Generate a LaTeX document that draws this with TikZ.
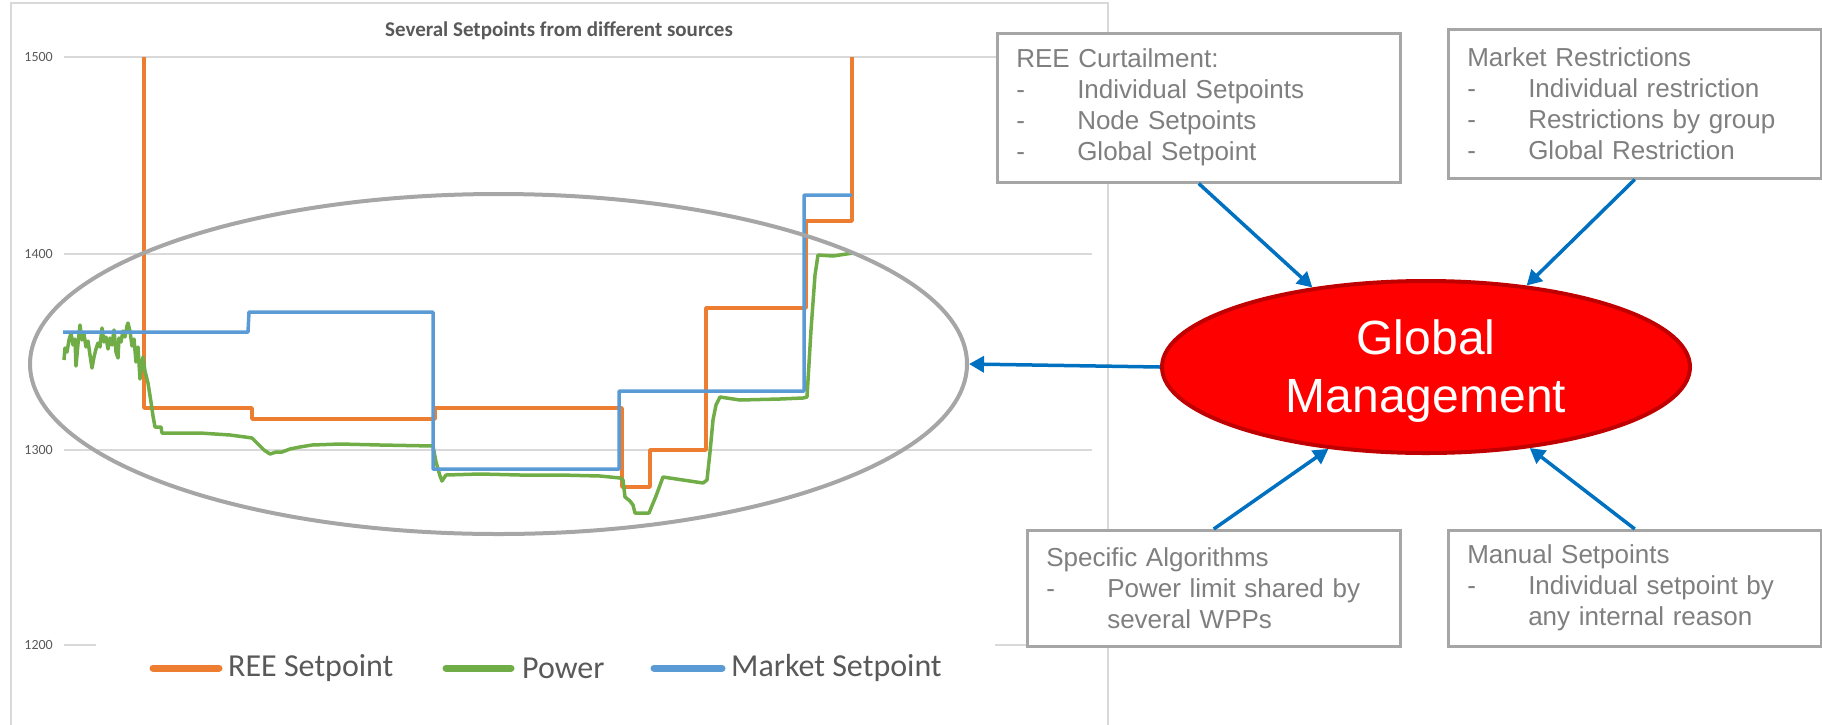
\documentclass[tikz,border=0pt]{standalone}
\usepackage{fontspec}
\setmainfont{Liberation Sans}
\newfontfamily\chartfont{Carlito}
\usetikzlibrary{arrows.meta,shapes.geometric}

\definecolor{reeorange}{HTML}{ED7D31}
\definecolor{powergreen}{HTML}{70AD47}
\definecolor{mktblue}{HTML}{5B9BD5}
\definecolor{arrowblue}{HTML}{0070C0}
\definecolor{gridgray}{HTML}{D9D9D9}
\definecolor{labelgray}{HTML}{595959}
\definecolor{boxtext}{HTML}{7F7F7F}
\definecolor{framegray}{HTML}{A6A6A6}
\definecolor{gmred}{HTML}{FF0000}
\definecolor{gmborder}{HTML}{C00000}

\newcommand{\dashitem}{\makebox[61pt][l]{-}}
\newcommand{\hangitem}{\hspace*{61pt}}

\begin{document}
\begin{tikzpicture}[x=1pt,y=-1pt,
    series/.style={line width=3.5pt, line join=round},
    gridline/.style={gridgray, line width=1.5pt},
    axislabel/.style={anchor=east, inner sep=0pt, text=labelgray, font=\chartfont\fontsize{14}{16}\selectfont},
    legendtext/.style={anchor=west, inner sep=0pt, text=labelgray, font=\chartfont\fontsize{32}{36}\selectfont},
    legendline/.style={line width=7pt, line cap=round},
    source/.style={draw=framegray, line width=2.5pt, fill=white, anchor=north west, align=left,
        inner xsep=19pt, inner ysep=0pt, text=boxtext, font=\fontsize{26}{31}\selectfont},
    feed/.style={arrowblue, line width=3.5pt, -{Triangle[length=15pt,width=16pt]}}]
    \useasboundingbox (0,0) rectangle (1822,724);

    \draw[gridgray, line width=1.5pt] (11,730) -- (11,3) -- (1108,3) -- (1108,730);
    \node[text=labelgray, font=\chartfont\bfseries\fontsize{21}{24}\selectfont] (title) at (559,31) {Several Setpoints from different sources};

    \foreach \yy in {57,254,450} \draw[gridline] (64,\yy) -- (1092,\yy);
    \draw[gridline] (64,645) -- (96,645) (995,645) -- (1092,645);
    \node[axislabel] (y1500) at (53,57) {1500};
    \node[axislabel] (y1400) at (53,254) {1400};
    \node[axislabel] (y1300) at (53,450) {1300};
    \node[axislabel] (y1200) at (53,645) {1200};

    \draw[series, reeorange] (144,57) -- (144,408) -- (252,408) -- (252,419) -- (435,419) -- (435,408) -- (622,408) -- (622,487) -- (650,487) -- (650,450) -- (706,450) -- (706,308) -- (806,308) -- (806,221) -- (852,221) -- (852,57);
    \draw[series, powergreen] (64,360) -- (65,348) -- (67,352) -- (69,340) -- (71,333) -- (73,345) -- (75,339) -- (76,366) -- (78,344) -- (80,325) -- (82,340) -- (84,334) -- (86,347) -- (88,341) -- (90,355) -- (92,368) -- (94,357) -- (96,349) -- (98,343) -- (100,347) -- (102,328) -- (104,342) -- (106,337) -- (108,349) -- (110,338) -- (112,345) -- (114,330) -- (116,352) -- (118,358) -- (119,338) -- (121,342) -- (123,331) -- (125,337) -- (127,326) -- (128,323) -- (130,331) -- (132,346) -- (134,339) -- (136,362) -- (138,347) -- (140,379) -- (142,362) -- (143,357) -- (145,371) -- (148,383) -- (151,402) -- (153,416) -- (155,427) -- (161,427) -- (162,433) -- (200,433) -- (230,435) -- (245,437) -- (252,438) -- (258,444) -- (264,450) -- (270,454) -- (276,452) -- (282,452) -- (290,449) -- (300,447) -- (312,445) -- (340,444) -- (380,445) -- (433,446) -- (436,462) -- (440,476) -- (442,481) -- (446,475) -- (480,474) -- (520,475) -- (560,475) -- (600,476) -- (620,478) -- (623,480) -- (625,497) -- (630,501) -- (633,505) -- (635,513) -- (649,513) -- (656,496) -- (663,477) -- (683,480) -- (703,483) -- (707,480) -- (710,452) -- (713,420) -- (716,405) -- (720,397) -- (740,400) -- (780,399) -- (803,398) -- (807,397) -- (811,330) -- (815,275) -- (818,255) -- (833,256) -- (853,253);
    \draw[series, mktblue] (63,332) -- (248,332) -- (249,312) -- (433,312) -- (433,469) -- (619,469) -- (619,391) -- (804,391) -- (804,195) -- (852,195);

    \draw[legendline, reeorange] (153,668) -- (219,668);
    \node[legendtext] (lgree) at (228,668) {REE Setpoint};
    \draw[legendline, powergreen] (446,668) -- (511,668);
    \node[legendtext] (lgpower) at (522,668) {Power};
    \draw[legendline, mktblue] (654,668) -- (722,668);
    \node[legendtext] (lgmkt) at (731,668) {Market Setpoint};

    \node[ellipse, draw=framegray, line width=4pt, minimum width=937pt, minimum height=340pt, inner sep=0pt] (ring) at (498.5,364) {};

    \node[source, text width=365pt, minimum height=149pt] (ree) at (996,32) {REE Curtailment:\\ \dashitem Individual Setpoints\\ \dashitem Node Setpoints\\ \dashitem Global Setpoint};
    \node[source, text width=335pt, minimum height=149pt] (mkt) at (1447,28) {Market Restrictions\\ \dashitem Individual restriction\\ \dashitem Restrictions by group\\ \dashitem Global Restriction};
    \node[source, text width=335pt, minimum height=116pt] (algo) at (1026,529) {Specific Algorithms\\ \dashitem Power limit shared by\\ \hangitem several WPPs};
    \node[source, text width=335pt, minimum height=116pt] (manual) at (1447,529) {Manual Setpoints\\ \dashitem Individual setpoint by\\ \hangitem any internal reason};

    \node[ellipse, draw=gmborder, line width=4pt, fill=gmred, minimum width=528pt, minimum height=172pt, inner sep=0pt] (gm) at (1426,367) {};
    \node[text=white, align=center, font=\fontsize{48}{58}\selectfont] (gmlabel) at ([yshift=-4pt]gm.center) {Global\\Management};

    \draw[feed] (gm.west) -- (ring.east);
    \draw[feed] (ree.south) -- (gm.145);
    \draw[feed] (mkt.south) -- (gm.39);
    \draw[feed] (algo.north) -- (gm.220);
    \draw[feed] (manual.north) -- (gm.322);
\end{tikzpicture}
\end{document}
